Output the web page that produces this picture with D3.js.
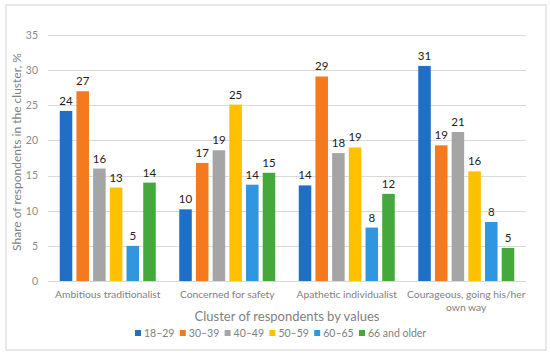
<!DOCTYPE html>
<html><head><meta charset="utf-8">
<script src="https://cdn.jsdelivr.net/npm/d3@7"></script>
<style>body{margin:0;background:#fff;} svg{display:block;}</style>
</head><body>
<svg id="c" width="550" height="357"></svg>
<script>
const categories = ["Ambitious traditionalist", "Concerned for safety", "Apathetic individualist", "Courageous, going his/her own way"];
const seriesNames = ["18–29", "30–39", "40–49", "50–59", "60–65", "66 and older"];
const s18_29 = [24.2, 10.2, 13.6, 30.6];
const s30_39 = [27.0, 16.8, 29.1, 19.3];
const s40_49 = [16.0, 18.6, 18.2, 21.2];
const s50_59 = [13.3, 25.1, 19.0, 15.6];
const s60_65 = [5.0, 13.7, 7.6, 8.4];
const s66plus = [14.0, 15.4, 12.4, 4.7];
const yTicks = [0, 5, 10, 15, 20, 25, 30, 35];
const colors = ["#1f6fc6", "#f5791f", "#a5a5a5", "#ffc000", "#2f96df", "#44a83a"];
const series = [s18_29, s30_39, s40_49, s50_59, s60_65, s66plus];

(function() {
const svg = d3.select("#c");
const font = "Lato, 'Open Sans', sans-serif";
svg.append("rect").attr("x", 6).attr("y", 5).attr("width", 540).attr("height", 345)
  .attr("fill", "#fff").attr("stroke", "#d9d9d9").attr("stroke-width", 1.2);

const mLeft = 48, mRight = 526, mTop = 35, mBottom = 281;
const x0 = d3.scaleBand().domain(categories).range([mLeft, mRight]).paddingInner(0).paddingOuter(0);
const x1 = d3.scaleBand().domain(seriesNames).range([0, 96]).paddingInner(0.25).paddingOuter(0);
const y = d3.scaleLinear().domain([0, 35]).range([mBottom, mTop]);

svg.append("g").selectAll("line").data(yTicks).join("line")
  .attr("x1", mLeft).attr("x2", mRight)
  .attr("y1", d => Math.round(y(d)) + 0.5).attr("y2", d => Math.round(y(d)) + 0.5)
  .attr("stroke", "#d9d9d9").attr("stroke-width", 1);

const yAxis = d3.axisLeft(y).tickValues(yTicks).tickSize(0).tickPadding(10);
const ya = svg.append("g").attr("transform", `translate(${mLeft},0)`).call(yAxis);
ya.select(".domain").remove();
ya.selectAll("text").attr("fill", "#8c8c8c").style("font-family", font).style("font-size", "10.5px");

const groups = svg.append("g").selectAll("g").data(categories).join("g")
  .attr("transform", c => `translate(${x0(c) + (x0.bandwidth() - 96) / 2},0)`);
groups.each(function(c, ci) {
  const g = d3.select(this);
  const vals = series.map((s, si) => ({name: seriesNames[si], v: s[ci], color: colors[si]}));
  g.selectAll("rect").data(vals).join("rect")
    .attr("x", d => x1(d.name)).attr("width", x1.bandwidth())
    .attr("y", d => y(d.v)).attr("height", d => y(0) - y(d.v))
    .attr("fill", d => d.color);
  g.selectAll("text").data(vals).join("text")
    .attr("x", d => x1(d.name) + x1.bandwidth() / 2).attr("y", d => y(d.v) - 6)
    .attr("text-anchor", "middle").attr("fill", "#222")
    .style("font-family", font).style("font-size", "11.5px")
    .text(d => d3.format(".0f")(d.v));
});

const xAxis = d3.axisBottom(x0).tickSize(0).tickPadding(10);
const xa = svg.append("g").attr("transform", `translate(0,${mBottom})`).call(xAxis);
xa.select(".domain").remove();
xa.selectAll("text").attr("fill", "#7f7f7f").style("font-family", font).style("font-size", "10.3px")
  .each(function(d) {
    if (d.length > 26) {
      const t = d3.select(this); t.text(null);
      t.append("tspan").attr("x", 0).attr("dy", "0.71em").text("Courageous, going his/her");
      t.append("tspan").attr("x", 0).attr("dy", "1.2em").text("own way");
      t.attr("dy", null).attr("y", 10);
    }
  });

svg.append("text").attr("x", (mLeft + mRight) / 2).attr("y", 321).attr("text-anchor", "middle")
  .attr("fill", "#7f7f7f").style("font-family", font).style("font-size", "13px")
  .text("Cluster of respondents by values");
svg.append("text").attr("transform", "translate(21,152) rotate(-90)").attr("text-anchor", "middle")
  .attr("fill", "#7f7f7f").style("font-family", font).style("font-size", "12px")
  .text("Share of respondents in the cluster, %");

const legX = d3.scalePoint().domain(seriesNames).range([135, 359]);
const leg = svg.append("g").selectAll("g").data(seriesNames).join("g")
  .attr("transform", d => `translate(${legX(d)},333)`);
leg.append("rect").attr("x", 0).attr("y", -3).attr("width", 6).attr("height", 6)
  .attr("fill", (d, i) => colors[i]);
leg.append("text").attr("x", 9).attr("y", 0).attr("dy", "0.35em")
  .attr("fill", "#7f7f7f").style("font-family", font).style("font-size", "10.5px").text(d => d);
})();
</script>
</body></html>
